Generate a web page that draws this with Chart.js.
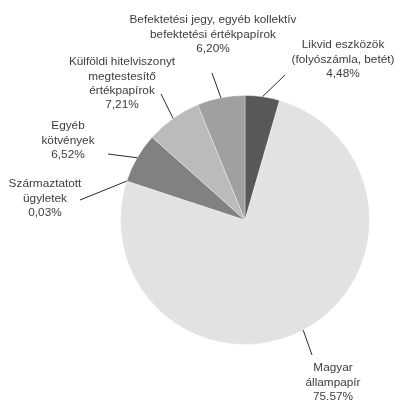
<!DOCTYPE html>
<html lang="hu">
  <head>
    <meta charset="UTF-8">
    <title>Portfólió összetétele</title>
    <script src="https://cdn.jsdelivr.net/npm/chart.js"></script>
    <style>
      html, body { margin: 0; padding: 0; background: #fff; }
      #wrap { width: 395px; height: 401px; }
    </style>
  </head>
  <body>
    <div id="wrap">
      <canvas id="pieChart" width="395" height="401"></canvas>
    </div>
    <script>
      // data, clockwise from 12 o'clock
      const categories = [
        ["Likvid eszközök", "(folyószámla, betét)"],
        ["Magyar", "állampapír"],
        ["Származtatott", "ügyletek"],
        ["Egyéb", "kötvények"],
        ["Külföldi hitelviszonyt", "megtestesítő", "értékpapírok"],
        ["Befektetési jegy, egyéb kollektív", "befektetési értékpapírok"]
      ];
      const shares = [4.48, 75.57, 0.03, 6.52, 7.21, 6.20];
      const shareLabels = ["4,48%", "75.57%", "0,03%", "6,52%", "7,21%", "6,20%"];

      const colors = ["#58585a", "#e2e2e4", "#6e6e70", "#818183", "#bbbbbd", "#a0a0a2"];

      // where each label sits (text centre x, first line y) and where its leader line ends
      const labelLayout = [
        { x: 343, y: 45, lx: 285, ly: 75 },
        { x: 333, y: 368, lx: 312, ly: 355 },
        { x: 45, y: 184, lx: 80, ly: 200 },
        { x: 68, y: 126, lx: 108, ly: 154 },
        { x: 122, y: 62, lx: 161, ly: 94 },
        { x: 213, y: 20, lx: 212, ly: 73 }
      ];

      const calloutPlugin = {
        id: "callouts",
        afterDatasetsDraw(chart) {
          const ctx = chart.ctx;
          const arcs = chart.getDatasetMeta(0).data;
          ctx.save();
          ctx.font = "11.8px 'Liberation Sans', Arial, sans-serif";
          ctx.fillStyle = "#3c3c3c";
          ctx.textAlign = "center";
          ctx.textBaseline = "middle";
          ctx.strokeStyle = "#2a2a2a";
          ctx.lineWidth = 1;
          arcs.forEach((arc, i) => {
            const p = arc.getProps(["x", "y", "startAngle", "endAngle", "outerRadius"], true);
            const mid = (p.startAngle + p.endAngle) / 2;
            const ex = p.x + Math.cos(mid) * p.outerRadius;
            const ey = p.y + Math.sin(mid) * p.outerRadius;
            const lay = labelLayout[i];
            ctx.beginPath();
            ctx.moveTo(ex, ey);
            ctx.lineTo(lay.lx, lay.ly);
            ctx.stroke();
            const lines = categories[i].concat([shareLabels[i]]);
            lines.forEach((t, j) => {
              ctx.fillText(t, lay.x, lay.y + j * 14.3);
            });
          });
          ctx.restore();
        }
      };

      new Chart(document.getElementById("pieChart"), {
        type: "pie",
        data: {
          labels: categories.map(c => c.join(" ")),
          datasets: [{
            data: shares,
            backgroundColor: colors,
            borderColor: "rgba(255,255,255,0.35)",
            borderWidth: 1
          }]
        },
        options: {
          responsive: false,
          animation: false,
          layout: { padding: { left: 120, right: 25, top: 95, bottom: 56 } },
          plugins: {
            legend: { display: false },
            tooltip: { enabled: false }
          }
        },
        plugins: [calloutPlugin]
      });
    </script>
  </body>
</html>
